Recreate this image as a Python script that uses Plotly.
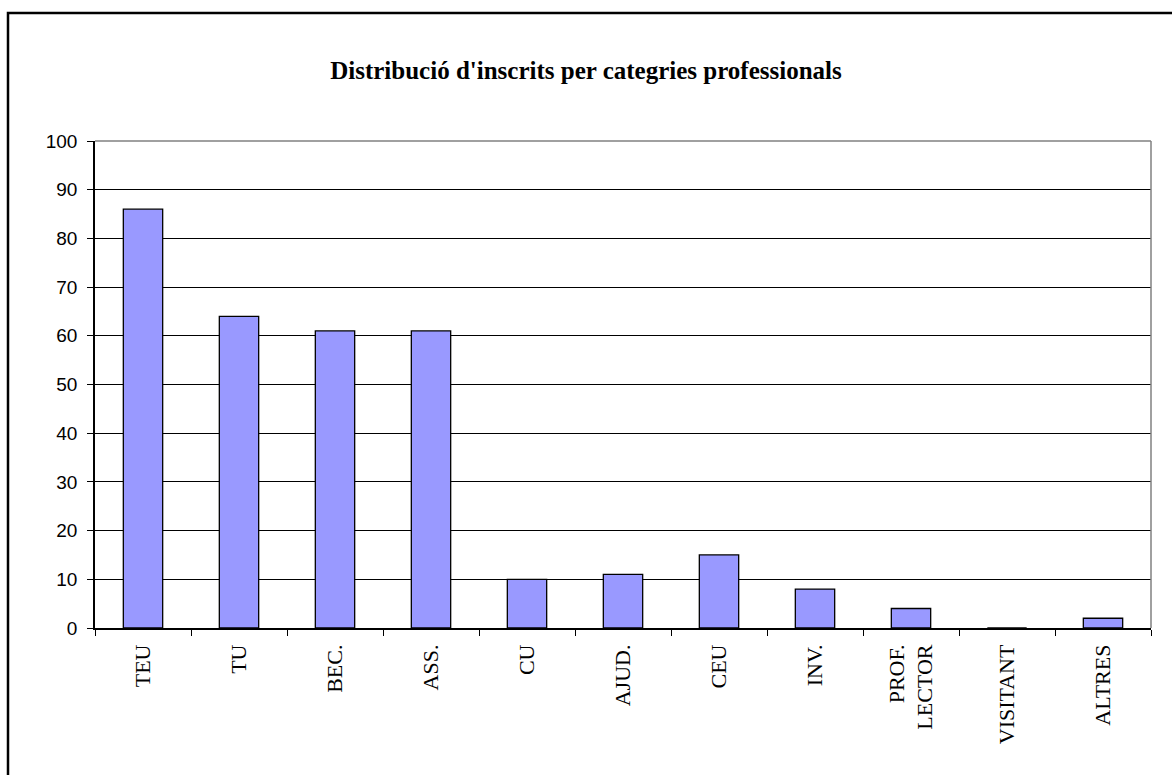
import plotly.graph_objects as go

categories = ["TEU", "TU", "BEC.", "ASS.", "CU", "AJUD.", "CEU", "INV.",
              "PROF.<br>LECTOR", "VISITANT", "ALTRES"]
values = [86, 64, 61, 61, 10, 11, 15, 8, 4, 0, 2]
title_text = "Distribució d'inscrits per categries professionals"
y_ticks = list(range(0, 101, 10))

W, H = 1172, 775
L, R, T, B = 95, 1151, 141, 628

fig = go.Figure()
fig.add_trace(go.Bar(
    x=categories, y=values, width=0.41,
    marker=dict(color="#9999FF", line=dict(color="black", width=1.3)),
    hoverinfo="x+y",
))

fig.update_layout(
    width=W, height=H,
    margin=dict(l=L, r=W - R, t=T, b=H - B, pad=0),
    paper_bgcolor="white", plot_bgcolor="white",
    showlegend=False,
    title=dict(text="<b>" + title_text + "</b>", x=0.5, xanchor="center",
               y=1 - 70 / H, yanchor="middle",
               font=dict(family="Liberation Serif", size=25, color="black")),
    xaxis=dict(
        type="category", tickangle=-90, tickson="boundaries",
        ticks="outside", ticklen=6, tickcolor="black", tickwidth=1.3,
        showline=True, linecolor="black", linewidth=1.5,
        showgrid=False,
        tickfont=dict(family="Liberation Serif", size=22, color="black"),
        ticklabelstandoff=6,
        range=[-0.5, len(categories) - 0.5],
    ),
    yaxis=dict(
        range=[0, 100], tickvals=y_ticks,
        ticks="outside", ticklen=6, tickcolor="black", tickwidth=1.3,
        showline=True, linecolor="black", linewidth=1.5,
        showgrid=True, gridcolor="black", gridwidth=1.3,
        zeroline=False,
        tickfont=dict(family="Liberation Sans", size=19, color="black"),
        ticklabelstandoff=6,
    ),
)

pw, ph = R - L, B - T
# gray top/right plot border
fig.add_shape(type="line", xref="paper", yref="paper", x0=0, x1=1, y0=1, y1=1,
              line=dict(color="#808080", width=1.5), layer="above")
fig.add_shape(type="line", xref="paper", yref="paper", x0=1, x1=1, y0=0, y1=1,
              line=dict(color="#808080", width=1.5), layer="above")
# outer chart frame (cropped at right/bottom)
fig.add_shape(type="rect", xref="paper", yref="paper",
              x0=(8 - L) / pw, x1=(W + 20 - L) / pw,
              y0=-(H + 20 - B) / ph, y1=(B - 13) / ph,
              line=dict(color="black", width=2.5), layer="above")

fig.write_html("out.html", config={"displayModeBar": False},
               post_script="document.body.style.margin='0';document.body.style.overflow='hidden';")
